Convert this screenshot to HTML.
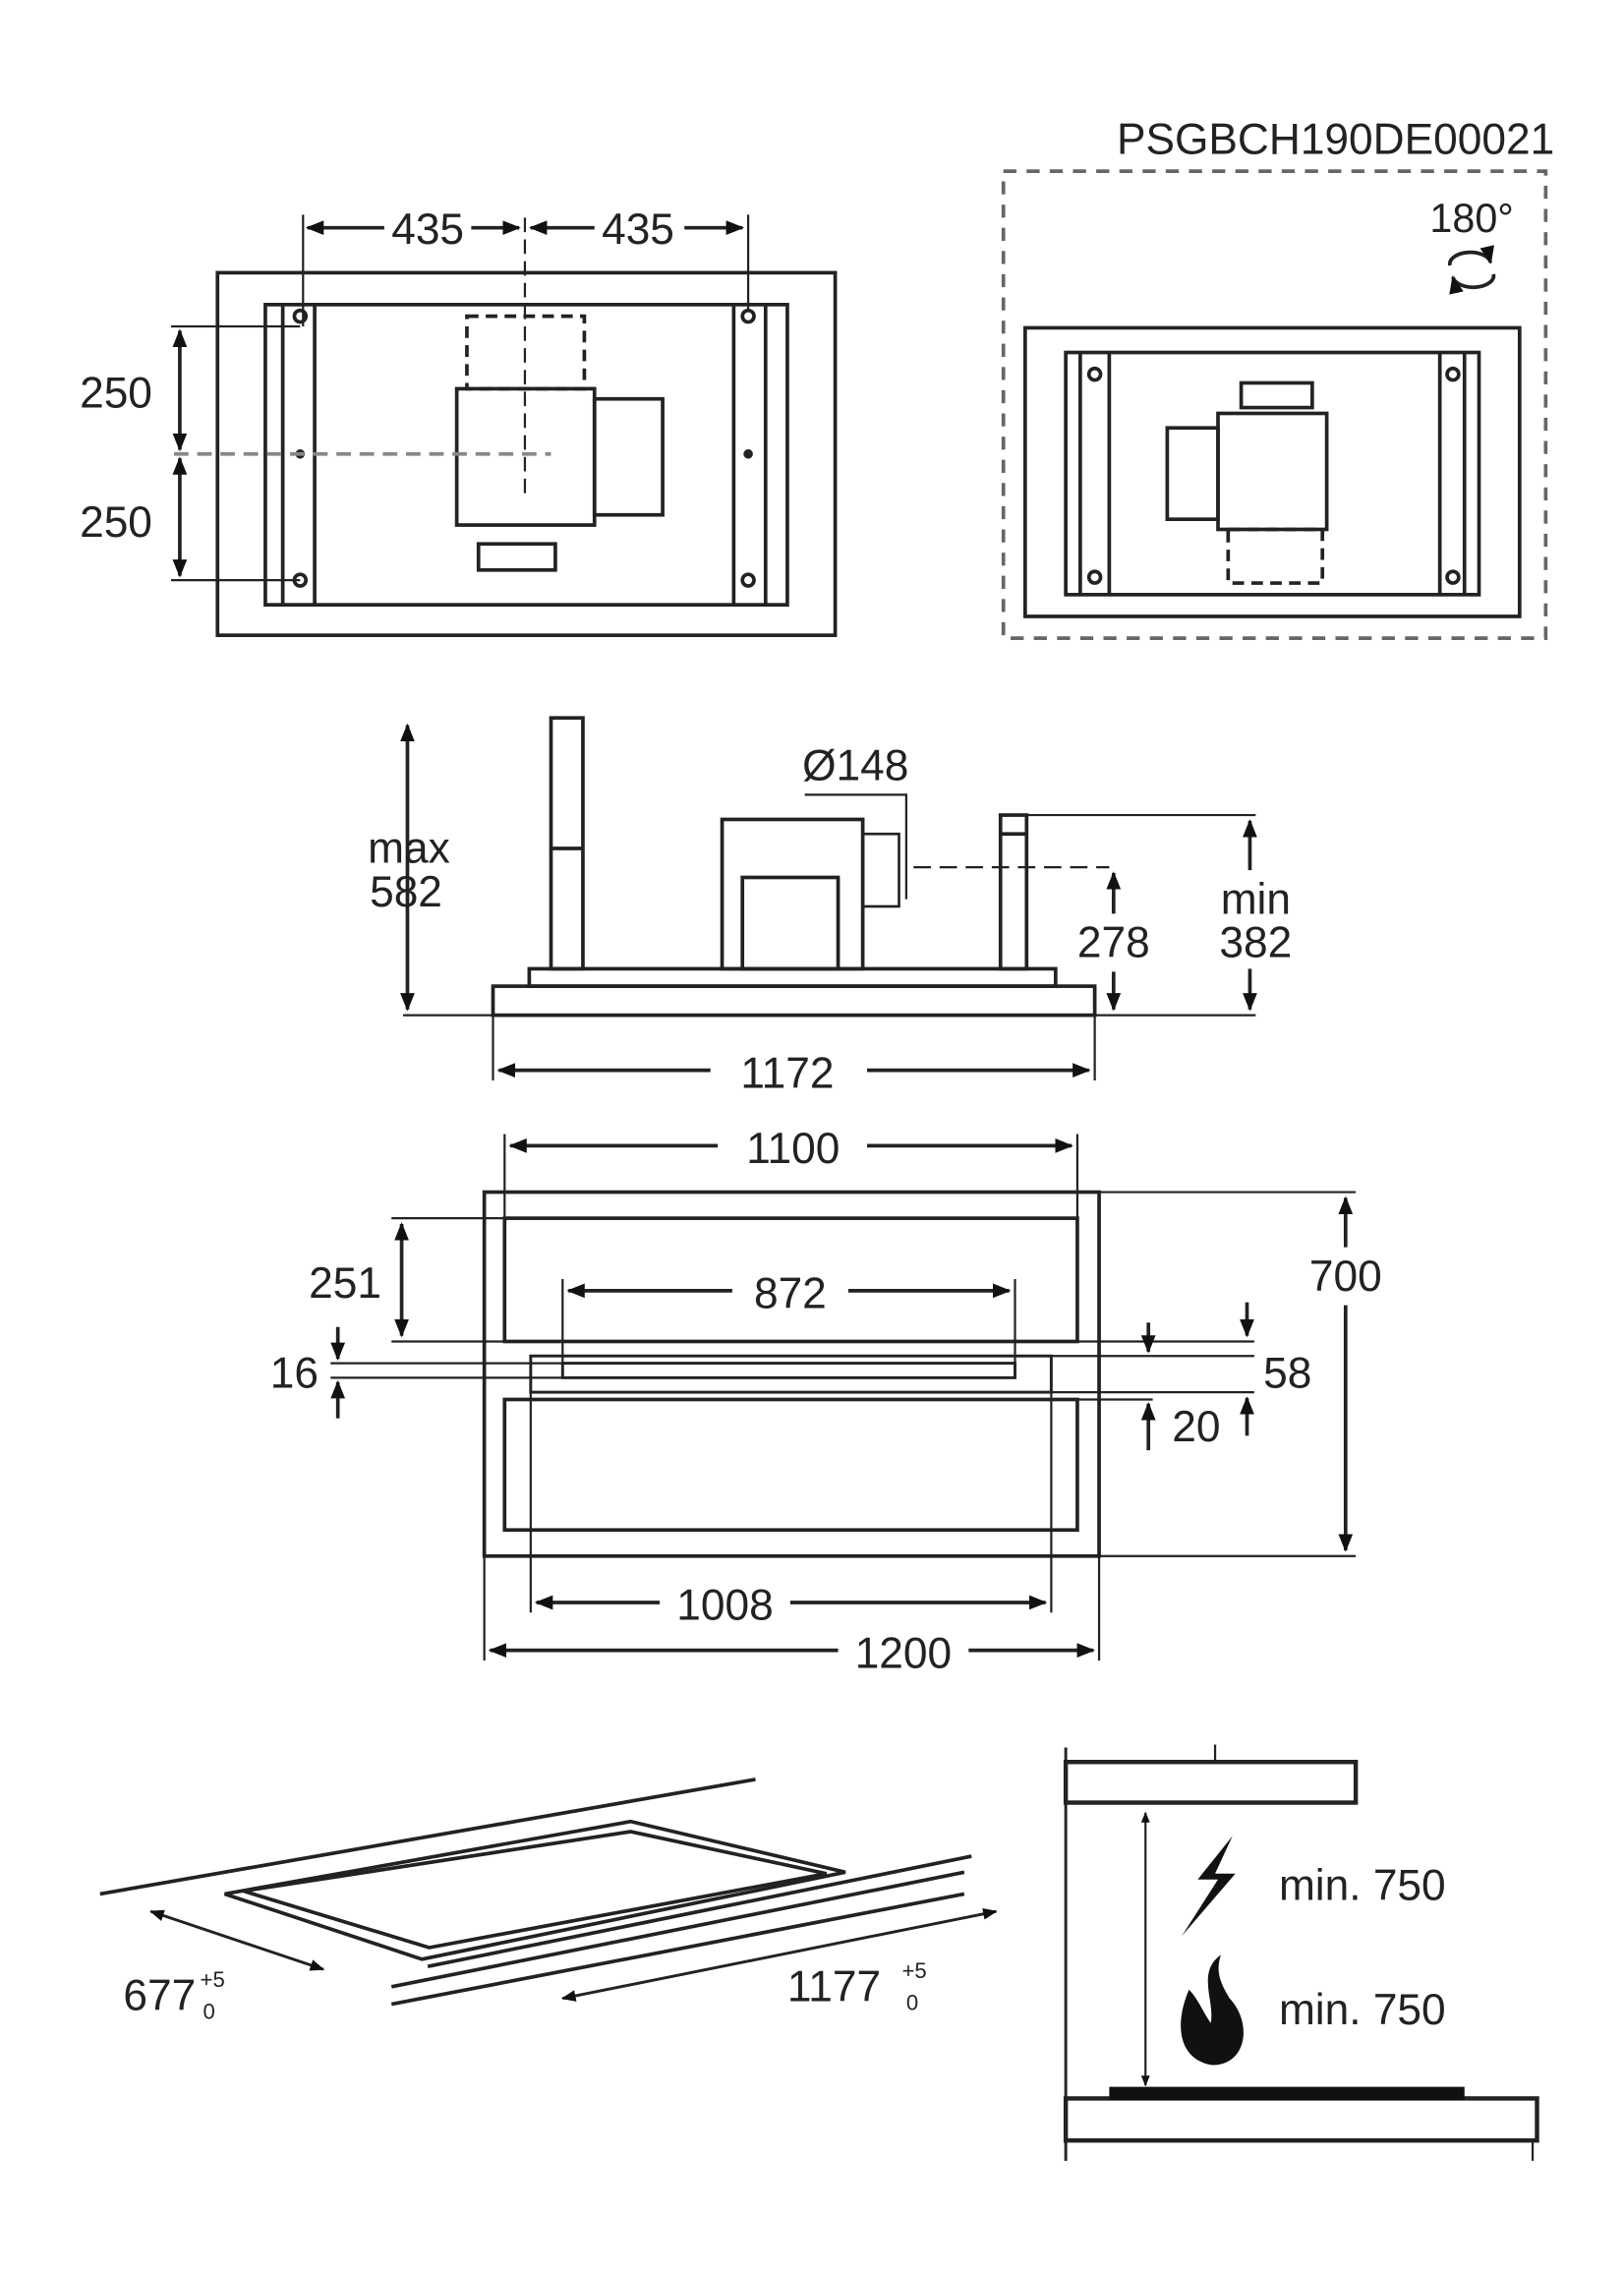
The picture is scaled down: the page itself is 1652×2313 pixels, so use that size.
<!DOCTYPE html>
<html><head><meta charset="utf-8"><style>
html,body{margin:0;padding:0;background:#fff}
svg{display:block}
text{font-family:"Liberation Sans",sans-serif;fill:#222}
</style></head><body>
<svg width="1652" height="2313" viewBox="0 0 1120 1568" xmlns="http://www.w3.org/2000/svg">
<defs>
<marker id="a" viewBox="0 0 10 10" refX="9" refY="5" markerWidth="5" markerHeight="5" orient="auto-start-reverse"><path d="M0,1 L10,5 L0,9 z" fill="#111"/></marker>
</defs>
<g stroke="#222" stroke-width="2.5" fill="none">
<!-- top-left plan -->
<rect x="150" y="188" width="426" height="250"/>
<rect x="183" y="210" width="360" height="207"/>
<line x1="195" y1="210" x2="195" y2="417"/><line x1="217" y1="210" x2="217" y2="417"/>
<line x1="506" y1="210" x2="506" y2="417"/><line x1="528" y1="210" x2="528" y2="417"/>
<circle cx="207" cy="218" r="4"/><circle cx="207" cy="400" r="4"/>
<circle cx="516" cy="218" r="4"/><circle cx="516" cy="400" r="4"/>
<circle cx="207" cy="313" r="2" fill="#222"/><circle cx="516" cy="313" r="2" fill="#222"/>
<rect x="322" y="218" width="81" height="50" stroke-dasharray="8,5"/>
<rect x="315" y="268" width="95" height="94"/>
<rect x="410" y="275" width="47" height="80"/>
<rect x="330" y="375" width="53" height="18"/>
<line x1="120" y1="313" x2="380" y2="313" stroke-dasharray="10,6" stroke="#888"/>
<line x1="362" y1="150" x2="362" y2="340" stroke-dasharray="10,5" stroke-width="1.5"/>
<line x1="209" y1="148" x2="209" y2="225" stroke-width="1.5"/>
<line x1="516" y1="148" x2="516" y2="215" stroke-width="1.5"/>
<line x1="212" y1="157" x2="265" y2="157" marker-start="url(#a)"/>
<line x1="325" y1="157" x2="358" y2="157" marker-end="url(#a)"/>
<line x1="366" y1="157" x2="410" y2="157" marker-start="url(#a)"/>
<line x1="472" y1="157" x2="512" y2="157" marker-end="url(#a)"/>
<line x1="118" y1="225" x2="207" y2="225" stroke-width="1.5"/>
<line x1="118" y1="400" x2="207" y2="400" stroke-width="1.5"/>
<line x1="124" y1="228" x2="124" y2="310" marker-start="url(#a)" marker-end="url(#a)"/>
<line x1="124" y1="316" x2="124" y2="397" marker-start="url(#a)" marker-end="url(#a)"/>
<!-- top-right -->
<rect x="692" y="118" width="374" height="322" stroke-dasharray="9,7" stroke="#666"/>
<rect x="707" y="226" width="341" height="199"/>
<rect x="735" y="243" width="285" height="167"/>
<line x1="745" y1="243" x2="745" y2="410"/><line x1="765" y1="243" x2="765" y2="410"/>
<line x1="993" y1="243" x2="993" y2="410"/><line x1="1010" y1="243" x2="1010" y2="410"/>
<circle cx="755" cy="258" r="4"/><circle cx="755" cy="398" r="4"/>
<circle cx="1002" cy="258" r="4"/><circle cx="1002" cy="398" r="4"/>
<rect x="856" y="264" width="49" height="17"/>
<rect x="840" y="285" width="75" height="80"/>
<rect x="805" y="295" width="35" height="63"/>
<rect x="847" y="365" width="65" height="37" stroke-dasharray="8,5"/>
<path d="M1000,183 a14,8 0 0 1 28,-2" marker-end="url(#a)"/>
<path d="M1030,189 a14,8 0 0 1 -28,2" marker-end="url(#a)"/>
<!-- side view -->
<rect x="340" y="680" width="415" height="20"/>
<rect x="365" y="668" width="363" height="12"/>
<rect x="380" y="495" width="22" height="173"/>
<line x1="380" y1="585" x2="402" y2="585"/>
<rect x="690" y="562" width="18" height="106"/>
<line x1="690" y1="575" x2="708" y2="575"/>
<rect x="498" y="565" width="97" height="103"/>
<rect x="512" y="605" width="66" height="63"/>
<rect x="595" y="575" width="25" height="50" stroke-width="1.8"/>
<polyline points="555,548 625,548 625,620" stroke-width="1.5"/>
<line x1="630" y1="598" x2="765" y2="598" stroke-dasharray="12,6" stroke-width="1.5"/>
<line x1="708" y1="562" x2="866" y2="562" stroke-width="1.5"/>
<line x1="278" y1="700" x2="866" y2="700" stroke-width="1.5"/>
<line x1="281" y1="500" x2="281" y2="696" marker-start="url(#a)" marker-end="url(#a)"/>
<line x1="768" y1="602" x2="768" y2="630" marker-start="url(#a)"/>
<line x1="768" y1="670" x2="768" y2="696" marker-end="url(#a)"/>
<line x1="862" y1="566" x2="862" y2="600" marker-start="url(#a)"/>
<line x1="862" y1="668" x2="862" y2="696" marker-end="url(#a)"/>
<line x1="340" y1="700" x2="340" y2="745" stroke-width="1.5"/>
<line x1="755" y1="700" x2="755" y2="745" stroke-width="1.5"/>
<line x1="344" y1="738" x2="490" y2="738" marker-start="url(#a)"/>
<line x1="598" y1="738" x2="751" y2="738" marker-end="url(#a)"/>
<!-- front view -->
<rect x="334" y="822" width="424" height="251"/>
<rect x="348" y="840" width="395" height="85"/>
<rect x="366" y="935" width="359" height="25" stroke-width="2"/>
<rect x="388" y="940" width="312" height="10" stroke-width="2"/>
<rect x="348" y="965" width="395" height="90"/>
<line x1="348" y1="782" x2="348" y2="840" stroke-width="1.5"/>
<line x1="743" y1="782" x2="743" y2="840" stroke-width="1.5"/>
<line x1="352" y1="790" x2="495" y2="790" marker-start="url(#a)"/>
<line x1="598" y1="790" x2="739" y2="790" marker-end="url(#a)"/>
<line x1="388" y1="882" x2="388" y2="940" stroke-width="1.5"/>
<line x1="700" y1="882" x2="700" y2="940" stroke-width="1.5"/>
<line x1="392" y1="890" x2="505" y2="890" marker-start="url(#a)"/>
<line x1="585" y1="890" x2="696" y2="890" marker-end="url(#a)"/>
<line x1="270" y1="840" x2="348" y2="840" stroke-width="1.5"/>
<line x1="270" y1="925" x2="348" y2="925" stroke-width="1.5"/>
<line x1="277" y1="844" x2="277" y2="921" marker-start="url(#a)" marker-end="url(#a)"/>
<line x1="228" y1="940" x2="388" y2="940" stroke-width="1.5"/>
<line x1="228" y1="950" x2="388" y2="950" stroke-width="1.5"/>
<line x1="233" y1="915" x2="233" y2="937" marker-end="url(#a)"/>
<line x1="233" y1="953" x2="233" y2="978" marker-start="url(#a)"/>
<line x1="725" y1="935" x2="865" y2="935" stroke-width="1.5"/>
<line x1="725" y1="960" x2="865" y2="960" stroke-width="1.5"/>
<line x1="743" y1="965" x2="795" y2="965" stroke-width="1.5"/>
<line x1="743" y1="925" x2="865" y2="925" stroke-width="1.5"/>
<line x1="860" y1="898" x2="860" y2="921" marker-end="url(#a)"/>
<line x1="860" y1="964" x2="860" y2="990" marker-start="url(#a)"/>
<line x1="792" y1="912" x2="792" y2="932" marker-end="url(#a)"/>
<line x1="792" y1="968" x2="792" y2="1000" marker-start="url(#a)"/>
<line x1="758" y1="822" x2="935" y2="822" stroke-width="1.5"/>
<line x1="758" y1="1073" x2="935" y2="1073" stroke-width="1.5"/>
<line x1="928" y1="826" x2="928" y2="860" marker-start="url(#a)"/>
<line x1="928" y1="900" x2="928" y2="1069" marker-end="url(#a)"/>
<line x1="366" y1="960" x2="366" y2="1112" stroke-width="1.5"/>
<line x1="725" y1="960" x2="725" y2="1112" stroke-width="1.5"/>
<line x1="370" y1="1105" x2="455" y2="1105" marker-start="url(#a)"/>
<line x1="545" y1="1105" x2="721" y2="1105" marker-end="url(#a)"/>
<line x1="334" y1="1073" x2="334" y2="1145" stroke-width="1.5"/>
<line x1="758" y1="1073" x2="758" y2="1145" stroke-width="1.5"/>
<line x1="338" y1="1138" x2="578" y2="1138" marker-start="url(#a)"/>
<line x1="668" y1="1138" x2="754" y2="1138" marker-end="url(#a)"/>
<!-- isometric hob -->
<line x1="69" y1="1306" x2="521" y2="1227"/>
<polygon points="155,1306 435,1256 583,1291 291,1351"/>
<polygon points="168,1304 435,1263 570,1292 296,1343"/>
<line x1="270" y1="1370" x2="665" y2="1291"/>
<line x1="270" y1="1382" x2="665" y2="1306"/>
<line x1="295" y1="1356" x2="670" y2="1280"/>
<line x1="104" y1="1318" x2="223" y2="1358" marker-start="url(#a)" marker-end="url(#a)" stroke-width="2"/>
<line x1="687" y1="1318" x2="388" y2="1378" marker-start="url(#a)" marker-end="url(#a)" stroke-width="2"/>
<!-- clearance -->
<line x1="735" y1="1205" x2="735" y2="1490" stroke-width="2"/>
<rect x="735" y="1215" width="200" height="28" stroke-width="3"/>
<line x1="838" y1="1203" x2="838" y2="1215" stroke-width="1.5"/>
<line x1="790" y1="1250" x2="790" y2="1438" marker-start="url(#a)" marker-end="url(#a)" stroke-width="1.5"/>
<rect x="735" y="1447" width="325" height="29" stroke-width="3"/>
<line x1="1057" y1="1476" x2="1057" y2="1490" stroke-width="1.5"/>
</g>
<rect x="765" y="1439" width="245" height="9" fill="#111"/>
<path d="M850,1266 L826,1296 L840,1296 L815,1335 L852,1292 L838,1292 Z" fill="#111"/>
<path d="M842,1348 C825,1360 838,1380 835,1395 C830,1388 826,1378 820,1372 C810,1395 812,1420 836,1424 C860,1424 864,1395 848,1378 C842,1368 838,1360 842,1348 Z" fill="#111"/>
<text x="1072" y="106" font-size="30" text-anchor="end">PSGBCH190DE00021</text>
<text x="1015" y="160" font-size="28" text-anchor="middle">180°</text>
<g font-size="30" text-anchor="middle">
<text x="295" y="168">435</text><text x="440" y="168">435</text>
<text x="80" y="281">250</text><text x="80" y="370">250</text>
<text x="282" y="595">max</text><text x="280" y="625">582</text>
<text x="590" y="538">Ø148</text>
<text x="768" y="660">278</text>
<text x="866" y="630">min</text><text x="866" y="660">382</text>
<text x="543" y="750">1172</text>
<text x="547" y="802">1100</text>
<text x="545" y="902">872</text>
<text x="238" y="895">251</text>
<text x="203" y="957">16</text>
<text x="888" y="957">58</text>
<text x="825" y="994">20</text>
<text x="928" y="890">700</text>
<text x="500" y="1117">1008</text>
<text x="623" y="1150">1200</text>
</g>
<text x="85" y="1386" font-size="30">677</text>
<text x="138" y="1370" font-size="15">+5</text><text x="140" y="1392" font-size="15">0</text>
<text x="543" y="1380" font-size="30">1177</text>
<text x="622" y="1364" font-size="15">+5</text><text x="625" y="1386" font-size="15">0</text>
<text x="882" y="1310" font-size="30">min. 750</text>
<text x="882" y="1396" font-size="30">min. 750</text>
</svg>
</body></html>
